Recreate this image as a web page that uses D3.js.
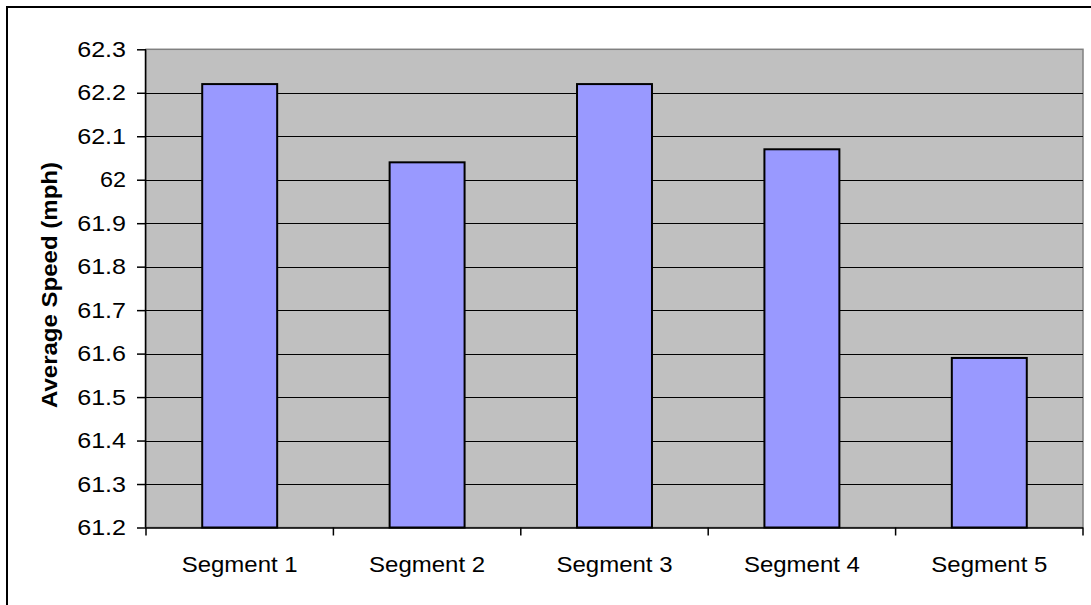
<!DOCTYPE html>
<html>
<head>
<meta charset="utf-8">
<script src="https://cdn.jsdelivr.net/npm/d3@7"></script>
<style>
html,body{margin:0;padding:0;background:#fff;}
svg{display:block;font-family:Arial,"Liberation Sans",sans-serif;}
</style>
</head>
<body>
<svg id="chart" width="1091" height="605"></svg>
<script>
const categories = ["Segment 1","Segment 2","Segment 3","Segment 4","Segment 5"];
const speeds = [62.22, 62.04, 62.22, 62.07, 61.59];
const yTicks = [61.2,61.3,61.4,61.5,61.6,61.7,61.8,61.9,62,62.1,62.2,62.3];
const yTitle = "Average Speed (mph)";

const svg = d3.select("#chart");
const L = 146, R = 1083, T = 49.3, B = 527.5;

// outer border (left/top visible)
svg.append("rect").attr("x",7).attr("y",7).attr("width",1100).attr("height",620)
  .attr("fill","none").attr("stroke","#000").attr("stroke-width",2);

const x = d3.scaleBand().domain(categories).range([L,R]).paddingInner(0).paddingOuter(0);
const y = d3.scaleLinear().domain([61.2,62.3]).range([B,T]);

// plot area
svg.append("rect").attr("x",L).attr("y",T).attr("width",R-L).attr("height",B-T)
  .attr("fill","#C0C0C0").attr("stroke","#808080").attr("stroke-width",1.5);

// gridlines
svg.append("g").selectAll("line").data(yTicks.filter(d=>d>61.2 && d<62.3)).join("line")
  .attr("x1",L).attr("x2",R)
  .attr("y1",d=>Math.round(y(d))+0.5).attr("y2",d=>Math.round(y(d))+0.5)
  .attr("stroke","#000").attr("stroke-width",1);

// bars
const bw = x.bandwidth()*0.4;
svg.append("g").selectAll("rect").data(categories).join("rect")
  .attr("x",(d)=>x(d)+(x.bandwidth()-bw)/2)
  .attr("width",bw)
  .attr("y",(d,i)=>y(speeds[i]))
  .attr("height",(d,i)=>B-y(speeds[i]))
  .attr("fill","#9999FF").attr("stroke","#000").attr("stroke-width",2);

// y axis
const yAxis = d3.axisLeft(y).tickValues(yTicks).tickSize(9).tickPadding(11)
  .tickFormat(d=>d3.format("")(+d.toFixed(1)));
const gy = svg.append("g").attr("transform",`translate(${L},0)`).call(yAxis);
gy.select(".domain").attr("stroke","#000").attr("stroke-width",1.5).attr("d",`M-0.5,${T}V${B}`);
gy.selectAll(".tick line").attr("stroke","#000").attr("stroke-width",1.5);
gy.selectAll(".tick text").attr("fill","#000").style("font-size","22px")
  .attr("font-family","Arial, 'Liberation Sans', sans-serif")
  .each(function(){ const t=d3.select(this); const s=t.text(); t.attr("textLength", s.length===2?26: (s.length*12.2)).attr("lengthAdjust","spacingAndGlyphs"); });

// x axis
const gx = svg.append("g").attr("transform",`translate(0,${B})`);
gx.append("line").attr("x1",L).attr("x2",R).attr("y1",0.5).attr("y2",0.5).attr("stroke","#000").attr("stroke-width",1.5);
const bounds = categories.map(c=>x(c)).concat([R]);
gx.selectAll("line.tk").data(bounds).join("line").attr("class","tk")
  .attr("x1",d=>d).attr("x2",d=>d).attr("y1",0).attr("y2",8)
  .attr("stroke","#000").attr("stroke-width",1.5);
gx.selectAll("text").data(categories).join("text")
  .attr("x",d=>x(d)+x.bandwidth()/2).attr("y",44)
  .attr("text-anchor","middle").style("font-size","22px").attr("fill","#000")
  .attr("textLength",116).attr("lengthAdjust","spacingAndGlyphs")
  .text(d=>d);

// y title
svg.append("text")
  .attr("transform",`translate(57,285) rotate(-90)`)
  .attr("text-anchor","middle").style("font-size","22px").style("font-weight","bold")
  .attr("textLength",246).attr("lengthAdjust","spacingAndGlyphs")
  .attr("fill","#000").text(yTitle);
</script>
</body>
</html>
